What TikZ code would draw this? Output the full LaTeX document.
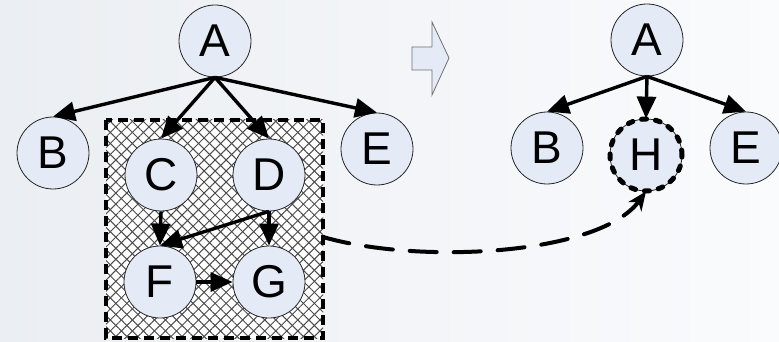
\documentclass[tikz,border=0pt]{standalone}
\usepackage{fontspec}
\setmainfont{Liberation Sans}
\usetikzlibrary{arrows.meta,patterns.meta}
\definecolor{bgL}{HTML}{EBEEF2}
\definecolor{bgR}{HTML}{FAFBFD}
\definecolor{nodefill}{HTML}{E4EBF7}
\definecolor{edgegray}{HTML}{707070}
\tikzset{
  vert/.style={circle,draw=black!85,line width=0.8pt,fill=nodefill,minimum size=72pt,inner sep=0pt,
    font=\fontsize{46}{46}\selectfont},
  edge/.style={line width=3.4pt,-{Triangle[length=22pt,width=19pt]}},
  hatchA/.style={pattern={Lines[angle=45,distance=7.8pt,line width=1pt]},pattern color=black!70},
  hatchB/.style={pattern={Lines[angle=-45,distance=7.8pt,line width=1pt]},pattern color=black!70},
  groupframe/.style={draw=black,line width=4pt,dash pattern=on 10pt off 6pt},
  merged/.style={draw=black,line width=5pt,line cap=round,dash pattern=on 5pt off 9pt},
  link/.style={line width=4pt,line cap=round,dash pattern=on 27pt off 17pt,
    -{Stealth[length=19pt,width=16pt,inset=6pt]}},
  blockarrow/.style={draw=edgegray,line width=0.8pt,fill=nodefill}
}
\begin{document}
\begin{tikzpicture}[x=1pt,y=-1pt]
  % background
  \fill[left color=bgL,right color=bgR] (0,0) rectangle (779,342);
  \useasboundingbox (0,0) rectangle (779,342);

  % cross-hatched group around C, D, F, G
  \coordinate (boxNW) at (106,120);
  \coordinate (boxSE) at (323,338);
  \fill[white] (boxNW) rectangle (boxSE);
  \path[hatchA] (boxNW) rectangle (boxSE);
  \path[hatchB] (boxNW) rectangle (boxSE);
  \draw[groupframe] (boxNW) rectangle (boxSE);
  \coordinate (boxE) at (323,237);

  % left tree
  \node[vert] (A) at (215,41) {A};
  \node[vert] (B) at (53,153) {B};
  \node[vert] (C) at (161,175) {C};
  \node[vert] (D) at (269,175) {D};
  \node[vert] (E) at (377,149) {E};
  \node[vert] (F) at (160,282) {F};
  \node[vert] (G) at (269,282) {G};

  \draw[edge] (A.south) -- (B.north);
  \draw[edge] (A.south) -- (C.north);
  \draw[edge] (A.south) -- (D.north);
  \draw[edge] (A.south) -- (E.north);
  \draw[edge] (C.south) -- (F.north);
  \draw[edge] (D.south) -- (G.north);
  \draw[edge] (D.south) -- (F.north);
  \draw[edge] (F.east) -- (G.west);

  % block arrow
  \draw[blockarrow] (412,47) -- (432,47) -- (432,22) -- (449,58) -- (432,95) -- (432,70) -- (412,70) -- cycle;

  % right tree
  \node[vert] (A2) at (647,40) {A};
  \node[vert] (B2) at (547,148) {B};
  \node[vert] (H) at (646,155) {H};
  \node[vert] (E2) at (746,148) {E};
  \draw[merged] (H.center) circle[radius=36pt];

  \draw[edge] (A2.south) -- (B2.north);
  \draw[edge] (A2.south) -- (H.north);
  \draw[edge] (A2.south) -- (E2.north);

  % group collapses into H
  \draw[link] (boxE) .. controls (420,265) and (600,255) .. (H.south);
\end{tikzpicture}
\end{document}
